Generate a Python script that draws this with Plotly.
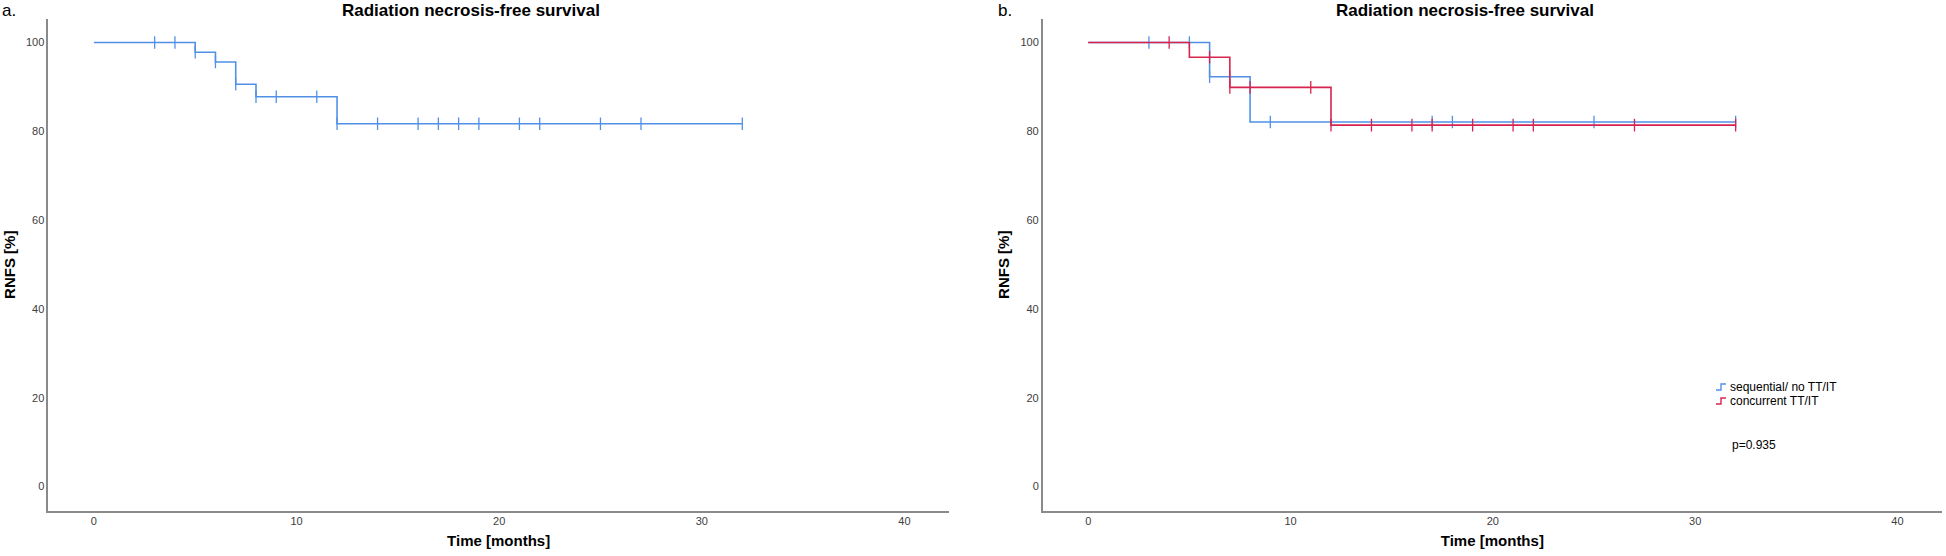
import plotly.graph_objects as go

# ---------------- data ----------------
# Panel a: all patients
time_all = [0, 5, 6, 7, 8, 12, 32]
surv_all = [100, 97.8, 95.6, 90.6, 87.8, 81.7, 81.7]
cens_all = [3, 4, 5, 6, 7, 8, 9, 11, 12, 14, 16, 17, 18, 19, 21, 22, 25, 27, 32]

# Panel b: sequential / no TT/IT
time_seq = [0, 6, 8, 32]
surv_seq = [100, 92.3, 82.1, 82.1]
cens_seq = [3, 5, 6, 7, 9, 17, 18, 25, 32]

# Panel b: concurrent TT/IT
time_con = [0, 5, 7, 12, 32]
surv_con = [100, 96.7, 89.9, 81.4, 81.4]
cens_con = [4, 6, 7, 8, 11, 12, 14, 16, 17, 19, 21, 22, 27, 32]

y_ticks = [0, 20, 40, 60, 80, 100]
x_ticks = [0, 10, 20, 30, 40]
series_names = ["sequential/ no TT/IT", "concurrent TT/IT"]
p_text = "p=0.935"
title_text = "Radiation necrosis-free survival"

# ---------------- style ----------------
W, H = 1946, 556
BLUE = "rgb(80,145,230)"
RED = "rgb(214,36,78)"
AX = "#8a8a8a"
FONT = "Arial, Liberation Sans, sans-serif"


def step_at(times, surv, t):
    val = surv[0]
    for ti, si in zip(times, surv):
        if ti <= t:
            val = si
    return val


fig = go.Figure()


def add_curve(times, surv, cens, color, name, xa, ya):
    fig.add_trace(go.Scatter(x=times, y=surv, mode="lines", line_shape="hv",
                             line=dict(color=color, width=1.6), name=name,
                             xaxis=xa, yaxis=ya, showlegend=False, hoverinfo="skip"))
    fig.add_trace(go.Scatter(x=cens, y=[step_at(times, surv, t) for t in cens],
                             mode="markers", name=name + " censored",
                             marker=dict(symbol="line-ns", size=9,
                                         line=dict(color=color, width=1.3)),
                             xaxis=xa, yaxis=ya, showlegend=False, hoverinfo="skip"))


add_curve(time_all, surv_all, cens_all, BLUE, "all", "x", "y")
add_curve(time_seq, surv_seq, cens_seq, BLUE, series_names[0], "x2", "y2")
add_curve(time_con, surv_con, cens_con, RED, series_names[1], "x2", "y2")

px = lambda v: v / W
py = lambda v: 1 - v / H

xdom1 = [px(48.3), px(949)]
xdom2 = [px(1042.7), px(1942)]
ydom = [py(510.5), py(19)]

xcommon = dict(range=[-2.25, 42.2], tickvals=x_ticks, showgrid=False, zeroline=False,
               showline=True, linecolor=AX, linewidth=1.5, ticks="",
               tickfont=dict(size=11, color="#404040", family=FONT),
               title=dict(text="<b>Time [months]</b>", standoff=9,
                          font=dict(size=15, color="black", family=FONT)))
ycommon = dict(range=[-5.4, 105.3], tickvals=y_ticks, showgrid=False, zeroline=False,
               showline=True, linecolor=AX, linewidth=1.5, ticks="",
               tickfont=dict(size=11, color="#404040", family=FONT),
               title=dict(text="<b>RNFS [%]</b>", standoff=7,
                          font=dict(size=15, color="black", family=FONT)))

fig.update_layout(
    width=W, height=H, margin=dict(l=0, r=0, t=0, b=0),
    paper_bgcolor="white", plot_bgcolor="white", showlegend=False,
    font=dict(family=FONT, color="black"),
    xaxis=dict(domain=xdom1, anchor="y", **xcommon),
    yaxis=dict(domain=ydom, anchor="x", **ycommon),
    xaxis2=dict(domain=xdom2, anchor="y2", **xcommon),
    yaxis2=dict(domain=ydom, anchor="x2", **ycommon),
)

annots = [
    dict(text="a.", x=px(0), y=py(10), xanchor="left", yanchor="middle", font=dict(size=17)),
    dict(text="b.", x=px(996), y=py(10), xanchor="left", yanchor="middle", font=dict(size=17)),
    dict(text="<b>" + title_text + "</b>", x=px(340), y=py(10),
         xanchor="left", yanchor="middle", font=dict(size=17)),
    dict(text="<b>" + title_text + "</b>", x=px(340 + 994.4), y=py(10),
         xanchor="left", yanchor="middle", font=dict(size=17)),
    dict(text=series_names[0], x=px(1728), y=py(387), xanchor="left", yanchor="middle",
         font=dict(size=12)),
    dict(text=series_names[1], x=px(1728), y=py(401), xanchor="left", yanchor="middle",
         font=dict(size=12)),
    dict(text=p_text, x=px(1730), y=py(445), xanchor="left", yanchor="middle",
         font=dict(size=12)),
]
for a in annots:
    a.update(xref="paper", yref="paper", showarrow=False)
    a["font"] = dict(family=FONT, color="black", **a["font"])
fig.update_layout(annotations=annots)

# legend step icons
shapes = []
for yc, col in [(387, BLUE), (401, RED)]:
    x0, x1, xm = px(1716), px(1726), px(1721)
    ylo, yhi = py(yc + 3), py(yc - 3)
    shapes.append(dict(type="path", xref="paper", yref="paper",
                       path=f"M {x0} {ylo} L {xm} {ylo} L {xm} {yhi} L {x1} {yhi}",
                       line=dict(color=col, width=1.4)))
fig.update_layout(shapes=shapes)

fig.write_html("out.html", config={"displayModeBar": False},
               post_script="document.body.style.margin='0';document.body.style.overflow='hidden';")
